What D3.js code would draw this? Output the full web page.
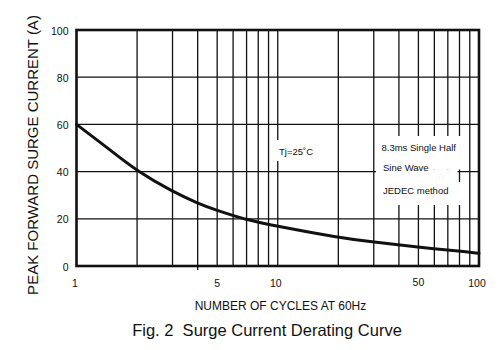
<!DOCTYPE html>
<html>
<head>
<meta charset="utf-8">
<script src="https://cdn.jsdelivr.net/npm/d3@7"></script>
<style>
  body { margin: 0; background: #fff; }
  svg { display: block; }
  text { font-family: "Liberation Sans", Arial, sans-serif; fill: #111; }
</style>
</head>
<body>
<svg id="chart" width="500" height="350"></svg>
<script>
// ---- data ----
const cycles  = [1, 1.5, 2, 3, 4, 5, 6, 7, 8, 10, 20, 30, 40, 50, 60, 70, 80, 100];
const current = [60, 48.6, 40.2, 31.5, 26.6, 23.5, 21.4, 19.7, 18.5, 16.8, 12, 10.1, 9.0, 8.0, 7.3, 6.7, 6.3, 5.4];
const gridCycles = [2, 3, 4, 5, 6, 7, 8, 9, 10, 20, 30, 40, 50, 60, 70, 80, 90];
const xTickLabels = [1, 5, 10, 50, 100];
const yTicks = [0, 20, 40, 60, 80, 100];
const yGrid = [20, 40, 60, 80];
const noteTj = "Tj=25˚C";
const noteBlock = ["8.3ms Single Half", "Sine Wave", "JEDEC method"];
const xTitle = "NUMBER OF CYCLES AT 60Hz";
const yTitle = "PEAK FORWARD SURGE CURRENT (A)";
const caption = "Fig. 2\u00a0\u00a0Surge Current Derating Curve";

// ---- layout ----
const L = 76.5, R = 479, T = 30, B = 266;
const svg = d3.select("#chart");
const x = d3.scaleLog().domain([1, 100]).range([L, R]);
const y = d3.scaleLinear().domain([0, 100]).range([B, T]);

// grid
const grid = svg.append("g").attr("stroke", "#111").attr("stroke-width", 1.3);
grid.selectAll(".vx").data(gridCycles).join("line")
  .attr("x1", d => x(d)).attr("x2", d => x(d))
  .attr("y1", T).attr("y2", d => d === 4 ? B + 4 : B);
grid.selectAll(".hy").data(yGrid).join("line")
  .attr("x1", L).attr("x2", R)
  .attr("y1", d => y(d)).attr("y2", d => y(d));

// white label boxes
const boxes = [
  [275, 140, 316, 161],
  [376, 136, 461, 169.5],
  [376, 169.5, 457.5, 182],
  [376, 182, 461, 205]
];
svg.append("g").selectAll("rect").data(boxes).join("rect")
  .attr("x", d => d[0]).attr("y", d => d[1])
  .attr("width", d => d[2] - d[0]).attr("height", d => d[3] - d[1])
  .attr("fill", "#fff");

// curve
const pts = cycles.map((c, i) => [c, current[i]]);
svg.append("path").datum(pts)
  .attr("fill", "none").attr("stroke", "#111").attr("stroke-width", 3)
  .attr("stroke-linecap", "round")
  .attr("d", d3.line().x(d => x(d[0])).y(d => y(d[1])).curve(d3.curveBasis));

// frame
svg.append("rect").attr("x", L).attr("y", T).attr("width", R - L).attr("height", B - T)
  .attr("fill", "none").attr("stroke", "#111").attr("stroke-width", 2.6);

// x tick labels
svg.append("g").selectAll("text").data(xTickLabels).join("text")
  .attr("x", d => x(d) - (d === 1 ? 1.5 : d === 100 ? 2 : d === 10 ? 2 : 0))
  .attr("y", d => d === 50 ? 285.5 : 287)
  .attr("text-anchor", "middle").attr("font-size", 10.5)
  .text(d => d);

// y tick labels
svg.append("g").selectAll("text").data(yTicks).join("text")
  .attr("x", 68.5).attr("y", d => y(d) + 4.5)
  .attr("text-anchor", "end").attr("font-size", 10.5)
  .text(d => d);

// axis titles
svg.append("text").attr("x", 280.5).attr("y", 309.5)
  .attr("text-anchor", "middle").attr("font-size", 12).text(xTitle);
svg.append("text").attr("transform", "translate(37.5,155) rotate(-90)")
  .attr("text-anchor", "middle").attr("font-size", 15).text(yTitle);

// caption
svg.append("text").attr("x", 267).attr("y", 336)
  .attr("text-anchor", "middle").attr("font-size", 16.5).text(caption);

// notes
svg.append("text").attr("x", 279).attr("y", 155).attr("font-size", 9.5).text(noteTj);
svg.append("g").selectAll("text").data(noteBlock).join("text")
  .attr("x", (d, i) => i === 0 ? 381.5 : 383)
  .attr("y", (d, i) => [151, 171, 194][i])
  .attr("font-size", 9.5).text(d => d);
</script>
</body>
</html>
